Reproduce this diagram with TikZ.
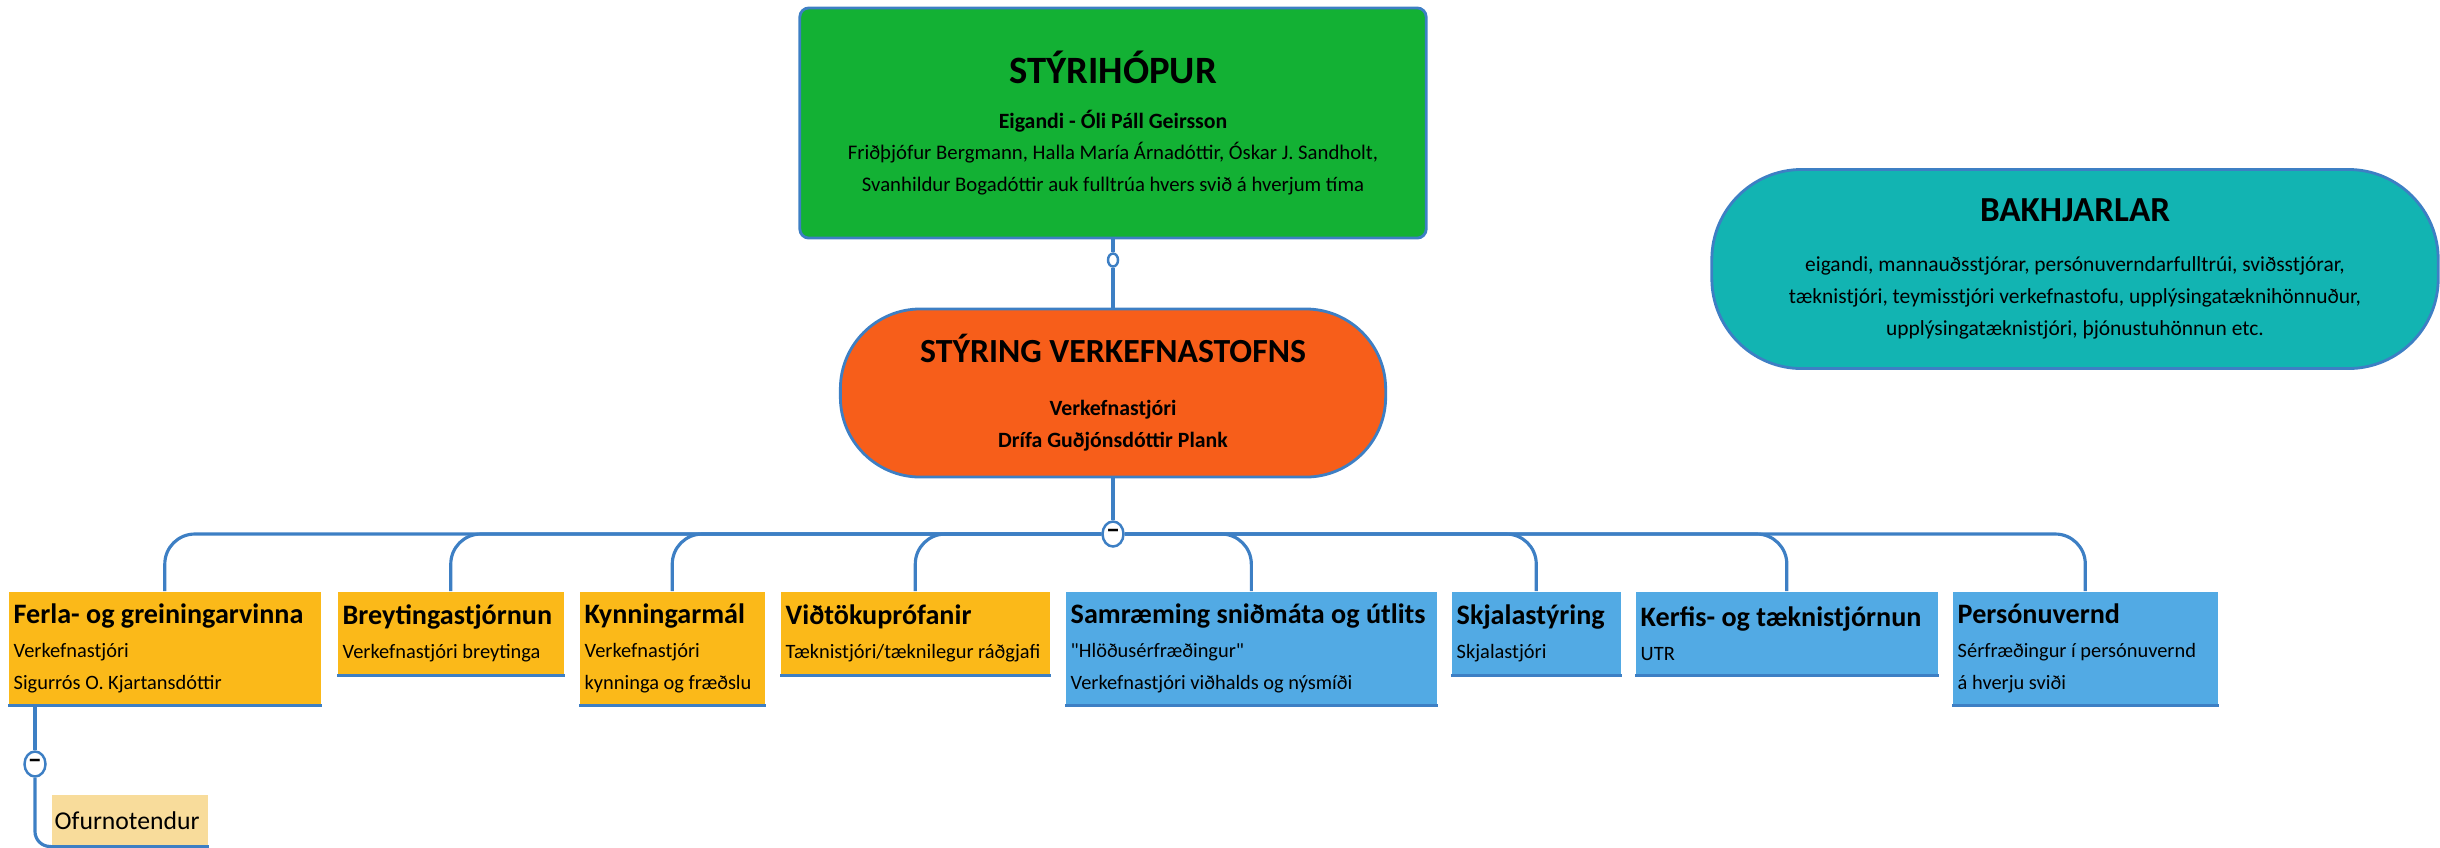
\documentclass[tikz,border=0pt]{standalone}
\usepackage{fontspec}
\setmainfont{Carlito}
\usetikzlibrary{shapes.geometric}
\definecolor{grn}{HTML}{13B134}
\definecolor{orng}{HTML}{F75E1A}
\definecolor{tealc}{HTML}{12B4B2}
\definecolor{yel}{HTML}{FBB919}
\definecolor{lblue}{HTML}{52AAE4}
\definecolor{pale}{HTML}{F8DC9B}
\definecolor{lineblue}{HTML}{3D7FC4}
\newcommand{\natspace}{\spaceskip=0pt\xspaceskip=0pt\relax}
\tikzset{
  link/.style={draw=lineblue, line width=0.9pt},
  uline/.style={draw=lineblue, line width=0.9pt},
  topbox/.style={draw=lineblue, line width=0.8pt, align=center, inner sep=0pt, font=\fontsize{5.9}{9}\selectfont},
  leaf/.style={fill=#1, anchor=north west, align=left, inner xsep=0.05cm, inner ysep=0pt, font=\fontsize{5.8}{9.1}\selectfont,
               execute at begin node=\natspace},
  knob/.style={ellipse, draw=lineblue, fill=white, line width=0.7pt, inner sep=0pt, minimum width=0.1cm, minimum height=0.13cm},
  hub/.style={ellipse, draw=lineblue, fill=white, line width=0.7pt, inner sep=0pt, minimum width=0.21cm, minimum height=0.25cm, font=\fontsize{8}{8}\selectfont\bfseries}
}
\newcommand{\leaftitle}[1]{{\fontsize{8}{9}\selectfont\bfseries #1}}

\begin{document}
\begin{tikzpicture}[x=0.01cm, y=-0.01cm]
    \useasboundingbox (0,0) rectangle (2440,847);
    % top boxes
    \node[topbox, fill=grn, rounded corners=0.09cm, minimum width=6.26cm, minimum height=2.3cm] (styri) at (1113,123)
        {{\fontsize{11}{13}\selectfont\bfseries STÝRIHÓPUR}\\[3.8pt]
         {\fontsize{6.2}{9}\selectfont\bfseries Eigandi - Óli Páll Geirsson}\\
         Friðþjófur Bergmann, Halla María Árnadóttir, Óskar J. Sandholt,\\
         Svanhildur Bogadóttir auk fulltrúa hvers svið á hverjum tíma};
    \node[knob] (k1) at (1113,260) {};
    \node[topbox, fill=orng, rounded corners=0.8cm, minimum width=5.45cm, minimum height=1.68cm,
          font=\fontsize{6.2}{9.1}\selectfont\bfseries] (stjorn) at (1113,393)
        {{\fontsize{9.6}{12}\selectfont STÝRING VERKEFNASTOFNS}\\[6pt]
         Verkefnastjóri\\
         Drífa Guðjónsdóttir Plank};
    \node[topbox, fill=tealc, rounded corners=0.9cm, minimum width=7.26cm, minimum height=1.99cm,
          font=\fontsize{6.1}{9.1}\selectfont] (bakh) at (2075,269)
        {{\fontsize{10}{12}\selectfont\bfseries BAKHJARLAR}\\[5pt]
         eigandi, mannauðsstjórar, persónuverndarfulltrúi, sviðsstjórar,\\
         tæknistjóri, teymisstjóri verkefnastofu, upplýsingatæknihönnuður,\\
         upplýsingatæknistjóri, þjónustuhönnun etc.};
    \node[hub] (h1) at (1113,534) {--};
    \draw[link] (styri) -- (k1);
    \draw[link] (k1) -- (stjorn);
    \draw[link] (stjorn) -- (h1);

    % leaves
    \node[leaf=yel, text width=3.02cm, minimum height=1.13cm] (ferla) at (8,591)
        {\leaftitle{Ferla- og greiningarvinna}\\[0.6pt] Verkefnastjóri\\ Sigurrós O. Kjartansdóttir};
    \node[leaf=yel, text width=2.16cm, minimum height=0.83cm] (breyt) at (337,591)
        {\leaftitle{Breytingastjórnun}\\[0.6pt] Verkefnastjóri breytinga};
    \node[leaf=yel, text width=1.75cm, minimum height=1.13cm] (kynning) at (579,591)
        {\leaftitle{Kynningarmál}\\[0.6pt] Verkefnastjóri\\ kynninga og fræðslu};
    \node[leaf=yel, text width=2.59cm, minimum height=0.83cm] (vidtoku) at (780,591)
        {\leaftitle{Viðtökuprófanir}\\[0.6pt] Tæknistjóri/tæknilegur ráðgjafi};
    \node[leaf=lblue, text width=3.61cm, minimum height=1.13cm] (samraem) at (1065,591)
        {\leaftitle{Samræming sniðmáta og útlits}\\[0.6pt] \textquotedbl Hlöðusérfræðingur\textquotedbl\\ Verkefnastjóri viðhalds og nýsmíði};
    \node[leaf=lblue, text width=1.59cm, minimum height=0.83cm] (skjala) at (1451,591)
        {\leaftitle{Skjalastýring}\\[0.6pt] Skjalastjóri};
    \node[leaf=lblue, text width=2.92cm, minimum height=0.83cm] (kerfis) at (1635,591)
        {\leaftitle{Kerfis- og tæknistjórnun}\\[0.6pt] UTR};
    \node[leaf=lblue, text width=2.55cm, minimum height=1.13cm] (person) at (1952,591)
        {\leaftitle{Persónuvernd}\\[0.6pt] Sérfræðingur í persónuvernd\\ á hverju sviði};
    \node[leaf=pale, text width=1.5cm, inner xsep=0.03cm, minimum height=0.51cm, font=\fontsize{7.3}{8}\selectfont] (ofur) at (51,794)
        {Ofurnotendur};
    \node[hub] (h2) at (35,764) {--};

    \foreach \n in {ferla,breyt,kynning,vidtoku,samraem,skjala,kerfis,person}
        \draw[link, rounded corners=0.3cm] (h1) -| (\n.north);
    \draw[link] (ferla.south -| h2) -- (h2);
    \draw[link, rounded corners=0.15cm] (h2) |- (ofur.south west);
    \foreach \n in {ferla,breyt,kynning,vidtoku,samraem,skjala,kerfis,person,ofur}
        \draw[uline] (\n.south west) -- (\n.south east);
\end{tikzpicture}
\end{document}
